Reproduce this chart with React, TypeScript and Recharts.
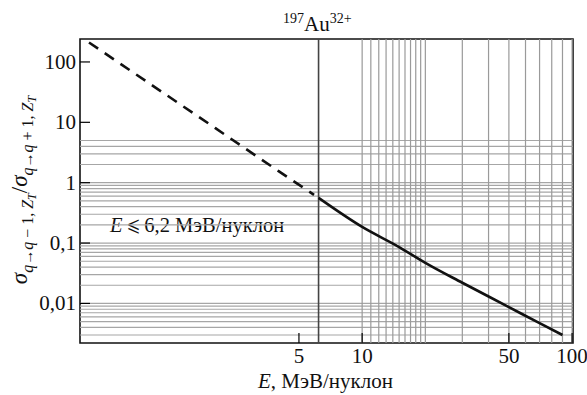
import React from "react";
import {
  LineChart,
  Line,
  XAxis,
  YAxis,
  ReferenceLine,
  ReferenceArea,
} from "recharts";

// axis extents (log scales)
const X_MIN = 0.453;
const X_MAX = 101;
const Y_MIN = 0.00221;
const Y_MAX = 240;

const xTicks = [5, 10, 50, 100];
const yTicks = [0.01, 0.1, 1, 10, 100];

// grid only drawn in some bands, like the original
const vGrid = [10, 11, 12, 13, 14, 15, 16, 17, 18, 19, 20, 30, 40, 50, 60, 70, 80, 90, 100];
const hGrid = [
  2, 3, 4, 5,
  0.2, 0.3, 0.4, 0.5, 0.6, 0.7, 0.8, 0.9, 1,
  0.02, 0.03, 0.04, 0.05, 0.06, 0.07, 0.08, 0.09, 0.1,
  0.003, 0.004, 0.005, 0.006, 0.007, 0.008, 0.009, 0.01,
];

const E_LIMIT = 6.2;

// extrapolated part (dashed)
const dashE = [0.5, 1, 2, 4, 5.9];
const dashV = [210, 41, 8, 1.55, 0.63];

// measured part (solid)
const solidE = [6.2, 10, 15, 20, 30, 50, 70, 90];
const solidV = [0.56, 0.185, 0.086, 0.047, 0.022, 0.0087, 0.0047, 0.003];

const dashData = dashE.map((e, i) => ({ e, v: dashV[i] }));
const solidData = solidE.map((e, i) => ({ e, v: solidV[i] }));

const FONT =
  "'Liberation Serif', Tinos, 'Noto Serif', 'DejaVu Serif', FreeSerif, 'Times New Roman', Times, serif";
const txt = { fontFamily: FONT };

const fmt = (v: number) => String(v).replace(".", ",");

const XTick = (props: any) => {
  const { x, y, payload } = props;
  return (
    <g>
      <line x1={x} x2={x} y1={y} y2={y - 10} stroke="#000" strokeWidth={1.2} />
      <text x={x} y={y + 20} textAnchor="middle" fontSize={21} style={txt} fill="#111">
        {fmt(payload.value)}
      </text>
    </g>
  );
};

const YTick = (props: any) => {
  const { x, y, payload } = props;
  return (
    <g>
      <line x1={x} x2={x + 10} y1={y} y2={y} stroke="#000" strokeWidth={1.2} />
      <text x={x - 4} y={y + 7} textAnchor="end" fontSize={21} style={txt} fill="#111">
        {fmt(payload.value)}
      </text>
    </g>
  );
};

export default function App() {
  return (
    <div style={{ width: 587, height: 395, background: "#fff", fontFamily: FONT }}>
      <style>{`body{margin:0}`}</style>
      <LineChart
        width={587}
        height={395}
        margin={{ top: 39, right: 14, bottom: 22, left: 20 }}
      >
        <XAxis
          type="number"
          dataKey="e"
          scale="log"
          domain={[X_MIN, X_MAX]}
          allowDataOverflow
          ticks={xTicks}
          interval={0}
          height={30}
          tickSize={0}
          tickMargin={0}
          tickLine={false}
          tick={XTick}
          axisLine={false}
        />
        <YAxis
          type="number"
          dataKey="v"
          scale="log"
          domain={[Y_MIN, Y_MAX]}
          allowDataOverflow
          ticks={yTicks}
          interval={0}
          width={60}
          tickSize={0}
          tickMargin={0}
          tickLine={false}
          tick={YTick}
          axisLine={false}
        />

        {hGrid.map((v) => (
          <ReferenceLine key={"h" + v} y={v} stroke="#a6a6a6" strokeWidth={1.2} />
        ))}
        {vGrid.map((v) => (
          <ReferenceLine key={"v" + v} x={v} stroke="#9a9a9a" strokeWidth={1.2} />
        ))}
        <ReferenceLine x={E_LIMIT} stroke="#444" strokeWidth={1.6} />

        <Line
          data={dashData}
          dataKey="v"
          type="linear"
          stroke="#111"
          strokeWidth={2.6}
          strokeDasharray="11 8"
          dot={false}
          activeDot={false}
          isAnimationActive={false}
        />
        <Line
          data={solidData}
          dataKey="v"
          type="monotone"
          stroke="#111"
          strokeWidth={2.6}
          dot={false}
          activeDot={false}
          isAnimationActive={false}
        />

        <ReferenceArea
          x1={X_MIN}
          x2={X_MAX}
          y1={Y_MIN}
          y2={Y_MAX}
          fill="none"
          fillOpacity={0}
          stroke="#111"
          strokeWidth={1.6}
          ifOverflow="visible"
        />

        {/* region label */}
        <rect x={107} y={209} width={198} height={29} fill="#fff" />
        <text x={110} y={232} fontSize={20.5} style={txt} fill="#111">
          <tspan fontStyle="italic">E</tspan> ⩽ 6,2 МэВ/нуклон
        </text>

        {/* ion label on top */}
        <text x={283} y={31} style={txt} fill="#111">
          <tspan fontSize={14} dy={-8}>197</tspan>
          <tspan fontSize={21} dy={8}>Au</tspan>
          <tspan fontSize={14} dy={-8}>32+</tspan>
        </text>

        {/* x title */}
        <text x={258} y={388} fontSize={21} style={txt} fill="#111">
          <tspan fontStyle="italic">E</tspan>, МэВ/нуклон
        </text>

        {/* y title */}
        <text
          transform="translate(27,190) rotate(-90)"
          textAnchor="middle"
          style={txt}
          fill="#111"
        >
          <tspan fontSize={23} fontStyle="italic">σ</tspan>
          <tspan fontSize={16} dy={6} fontStyle="italic">q</tspan>
          <tspan fontSize={15}>→</tspan>
          <tspan fontSize={16} fontStyle="italic">q</tspan>
          <tspan fontSize={16}> − 1, </tspan>
          <tspan fontSize={16} fontStyle="italic">Z</tspan>
          <tspan fontSize={12} dy={3} fontStyle="italic">T</tspan>
          <tspan fontSize={23} dy={-9}>/</tspan>
          <tspan fontSize={23} fontStyle="italic">σ</tspan>
          <tspan fontSize={16} dy={6} fontStyle="italic">q</tspan>
          <tspan fontSize={15}>→</tspan>
          <tspan fontSize={16} fontStyle="italic">q</tspan>
          <tspan fontSize={16}> + 1, </tspan>
          <tspan fontSize={16} fontStyle="italic">Z</tspan>
          <tspan fontSize={12} dy={3} fontStyle="italic">T</tspan>
        </text>
      </LineChart>
    </div>
  );
}
